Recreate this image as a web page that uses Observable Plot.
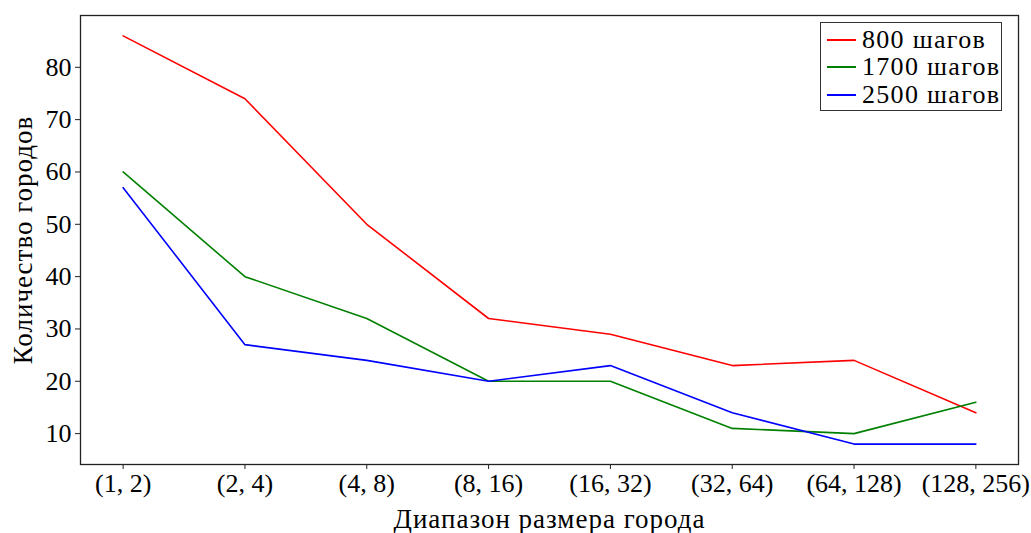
<!DOCTYPE html>
<html>
<head>
<meta charset="utf-8">
<script src="https://cdn.jsdelivr.net/npm/d3@7"></script>
<script src="https://cdn.jsdelivr.net/npm/@observablehq/plot@0.6"></script>
<style>
  html, body { margin: 0; padding: 0; background: #fff; }
  #wrap { position: relative; width: 1031px; height: 533px; overflow: hidden; }
  #wrap svg text { font-family: "Liberation Serif", serif; }
  #wrap svg g[aria-label="x-axis label"] text,
  #wrap svg g[aria-label="y-axis label"] text { font-size: 27px; letter-spacing: 1px; }
  #legend {
    position: absolute; left: 820px; top: 22px; width: 182px; height: 89px;
    border: 1.3px solid #333; background: #fff; box-sizing: border-box;
    font-family: "Liberation Serif", serif; font-size: 26px; color: #000;
    padding: 3px 0 0 6px; letter-spacing: 1.3px;
  }
  .row { display: flex; align-items: center; height: 27.5px; }
  .sw { width: 29px; height: 0; border-top: 2px solid; margin-right: 6px; }
</style>
</head>
<body>
<div id="wrap"></div>
<script>
const categories = ["(1, 2)", "(2, 4)", "(4, 8)", "(8, 16)", "(16, 32)", "(32, 64)", "(64, 128)", "(128, 256)"];
const series = ["800 шагов", "1700 шагов", "2500 шагов"];
const colors = ["#ff0000", "#008000", "#0000ff"];
const steps800 = [86, 74, 50, 32, 29, 23, 24, 14];
const steps1700 = [60, 40, 32, 20, 20, 11, 10, 16];
const steps2500 = [57, 27, 24, 20, 23, 14, 8, 8];
const yTicks = [10, 20, 30, 40, 50, 60, 70, 80];

const values = [steps800, steps1700, steps2500];
const data = [];
series.forEach((s, i) => categories.forEach((c, j) => data.push({series: s, cat: c, value: values[i][j]})));

const chart = Plot.plot({
  width: 1031,
  height: 533,
  marginLeft: 80,
  marginRight: 13,
  marginTop: 15,
  marginBottom: 69,
  style: {fontFamily: "Liberation Serif, serif", fontSize: "26px", color: "#000", background: "#fff"},
  x: {type: "point", domain: categories, padding: 0.35, round: false},
  y: {domain: [4.1, 89.9]},
  color: {domain: series, range: colors},
  marks: [
    Plot.frame({stroke: "#222", strokeWidth: 1.3}),
    Plot.axisX({tickSize: 5, tickPadding: 4, label: "Диапазон размера города", labelAnchor: "center", labelOffset: 63, labelArrow: "none", stroke: "#222"}),
    Plot.axisY({ticks: yTicks, tickSize: 5, tickPadding: 4, label: "Количество городов", labelAnchor: "center", labelOffset: 68, labelArrow: "none", stroke: "#222"}),
    Plot.line(data, {x: "cat", y: "value", z: "series", stroke: "series", strokeWidth: 1.6})
  ]
});
const wrap = document.getElementById("wrap");
wrap.appendChild(chart);

const legend = document.createElement("div");
legend.id = "legend";
series.forEach((s, i) => {
  const row = document.createElement("div");
  row.className = "row";
  const sw = document.createElement("span");
  sw.className = "sw";
  sw.style.borderColor = colors[i];
  const t = document.createElement("span");
  t.textContent = s;
  row.appendChild(sw); row.appendChild(t);
  legend.appendChild(row);
});
wrap.appendChild(legend);
</script>
</body>
</html>
